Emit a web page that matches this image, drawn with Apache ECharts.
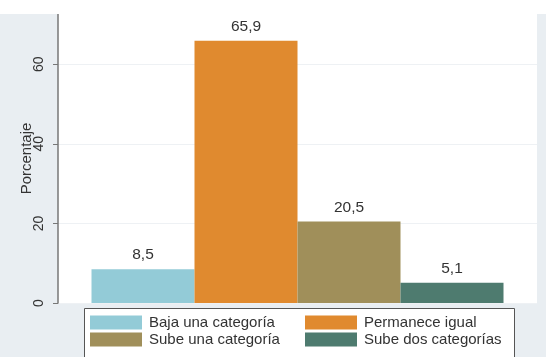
<!DOCTYPE html>
<html><head><meta charset="utf-8">
<script src="https://cdn.jsdelivr.net/npm/echarts@6/dist/echarts.min.js"></script>
<style>html,body{margin:0;padding:0;background:#fff;}#c{position:absolute;left:0;top:14px;width:546px;height:343px;}</style>
</head><body><div id="c"></div>
<script>
var categories = ['Baja una categoría', 'Permanece igual', 'Sube una categoría', 'Sube dos categorías'];
var values = [8.5, 65.9, 20.5, 5.1];
var colors = ['#93cbd7', '#e08a2f', '#a08f5a', '#4e7b6f'];
var yTicks = [0, 20, 40, 60];
var yName = 'Porcentaje';

var font = 'Liberation Sans, Arial, sans-serif';
var chart = echarts.init(document.getElementById('c'));
var series = categories.map(function (name, i) {
  return {
    type: 'bar', name: name, data: [values[i]],
    barWidth: 103, barGap: '0%',
    itemStyle: { color: colors[i] },
    label: {
      show: true, position: 'top', distance: 6,
      fontFamily: font, fontSize: 15.5, color: '#333',
      formatter: function (p) { return p.value.toFixed(1).replace('.', ','); }
    }
  };
});
function mkLegend(left, items) {
  return { orient: 'vertical', left: left, top: 301, padding: 0, itemWidth: 52, itemHeight: 14, itemGap: 2,
    icon: 'rect', data: items, selectedMode: false,
    textStyle: { fontFamily: font, fontSize: 15, color: '#333', padding: [0, 0, 0, 2] } };
}
chart.setOption({
  backgroundColor: '#e9eef2',
  animation: false,
  grid: { left: 58, right: 9, top: 0, bottom: 54, show: true, backgroundColor: '#ffffff', borderWidth: 0 },
  xAxis: { type: 'category', data: [''], axisLine: { show: false }, axisTick: { show: false }, axisLabel: { show: false } },
  yAxis: {
    type: 'value', min: 0, max: 72.6, interval: 20,
    name: yName, nameLocation: 'middle', nameGap: 24, nameMoveOverlap: false,
    nameTextStyle: { fontFamily: font, fontSize: 15, color: '#333' },
    axisLine: { show: true, lineStyle: { color: '#777', width: 1.5 } },
    axisTick: { show: true, length: 5, customValues: yTicks, lineStyle: { color: '#777' } },
    axisLabel: { rotate: 90, margin: 12, fontFamily: font, fontSize: 14, color: '#333', customValues: yTicks,
      formatter: function (v) { return yTicks.indexOf(v) >= 0 ? String(v) : ''; } },
    splitLine: { show: true, lineStyle: { color: '#eef1f4', width: 1 } }
  },
  legend: [
    mkLegend(90, [categories[0], categories[2]]),
    mkLegend(305, [categories[1], categories[3]])
  ],
  graphic: [{ type: 'rect', left: 84, top: 294, z: -1,
    shape: { width: 430, height: 70 },
    style: { fill: '#fff', stroke: '#555', lineWidth: 1 } }],
  series: series
});
</script></body></html>
